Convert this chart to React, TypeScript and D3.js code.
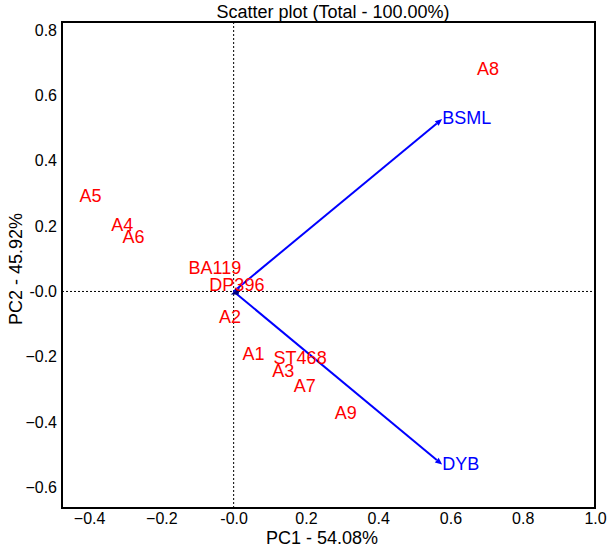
import { useEffect, useRef } from 'react';
import * as d3 from 'd3';

// observations (red labels)
const obsNames = ['A8', 'A5', 'A4', 'A6', 'BA119', 'DP396', 'A2', 'A1', 'ST468', 'A3', 'A7', 'A9'];
const obsPC1 = [0.704, -0.396, -0.308, -0.277, -0.052, 0.009, -0.01, 0.055, 0.184, 0.137, 0.197, 0.31];
const obsPC2 = [0.68, 0.291, 0.205, 0.168, 0.072, 0.02, -0.078, -0.19, -0.205, -0.245, -0.289, -0.372];

// variables (blue vectors)
const varNames = ['BSML', 'DYB'];
const varPC1 = [0.577, 0.577];
const varPC2 = [0.528, -0.53];

const xTicks = [-0.4, -0.2, 0, 0.2, 0.4, 0.6, 0.8, 1.0];
const yTicks = [-0.6, -0.4, -0.2, 0, 0.2, 0.4, 0.6, 0.8];

const fmt = (d: number) => (d === 0 ? '-0.0' : d3.format('.1f')(d));

export default function App() {
  const gx = useRef<SVGGElement>(null),
    gy = useRef<SVGGElement>(null);

  const width = 607,
    height = 550,
    left = 62,
    right = 595,
    top = 22,
    bottom = 508;

  const x = d3.scaleLinear().domain([-0.475, 1.0]).range([left, right]);
  const y = d3.scaleLinear().domain([-0.663, 0.825]).range([bottom, top]);

  useEffect(() => {
    const ax = d3.select(gx.current!);
    ax.call(d3.axisBottom(x).tickValues(xTicks).tickFormat(fmt as any).tickSize(0).tickPadding(5));
    ax.select('.domain').remove();
    ax.selectAll('text').attr('font-size', 16).attr('font-family', 'Liberation Sans, Arial, sans-serif').attr('fill', '#000');

    const ay = d3.select(gy.current!);
    ay.call(d3.axisLeft(y).tickValues(yTicks).tickFormat(fmt as any).tickSize(0).tickPadding(5));
    ay.select('.domain').remove();
    ay.selectAll('text').attr('font-size', 16).attr('font-family', 'Liberation Sans, Arial, sans-serif').attr('fill', '#000');
  }, []);

  const font = 'Liberation Sans, Arial, sans-serif';
  const x0 = x(0),
    y0 = y(0);

  return (
    <svg
      width={width}
      height={height}
      style={{ position: 'absolute', left: 0, top: 0, background: '#fff' }}
      fontFamily={font}
    >
      <text x={333} y={12} textAnchor="middle" dominantBaseline="central" fontSize={18}>
        Scatter plot (Total - 100.00%)
      </text>

      {/* zero lines */}
      <line x1={x0} x2={x0} y1={top} y2={bottom} stroke="#000" strokeWidth={1} strokeDasharray="2,2" />
      <line x1={left} x2={right} y1={y0} y2={y0} stroke="#000" strokeWidth={1} strokeDasharray="2,2" />

      <g ref={gx} transform={`translate(0,${bottom})`} />
      <g ref={gy} transform={`translate(${left},0)`} />

      {/* vectors */}
      {varNames.map((n, i) => {
        const ex = x(varPC1[i]),
          ey = y(varPC2[i]);
        const ang = Math.atan2(ey - y0, ex - x0);
        const L = 7,
          W = 3;
        const bx = ex - L * Math.cos(ang),
          by = ey - L * Math.sin(ang);
        const p1 = [bx + W * Math.sin(ang), by - W * Math.cos(ang)];
        const p2 = [bx - W * Math.sin(ang), by + W * Math.cos(ang)];
        return (
          <g key={n}>
            <line x1={x0} y1={y0} x2={bx} y2={by} stroke="#0000ff" strokeWidth={2} />
            <polygon points={`${ex},${ey} ${p1[0]},${p1[1]} ${p2[0]},${p2[1]}`} fill="#0000ff" />
            <text x={ex} y={ey - 1} dominantBaseline="central" fontSize={18} fill="#0000ff">
              {n}
            </text>
          </g>
        );
      })}
      <polygon
        points={`${x0 - 3},${y0 + 3} ${x0 + 6},${y0 - 4} ${x0 + 5},${y0 + 3}`}
        fill="#000080"
      />

      {/* observations */}
      {obsNames.map((n, i) => (
        <text
          key={n}
          x={x(obsPC1[i])}
          y={y(obsPC2[i])}
          textAnchor="middle"
          dominantBaseline="central"
          fontSize={18}
          fill="#ff0000"
        >
          {n}
        </text>
      ))}

      {/* frame */}
      <rect x={left} y={top} width={right - left} height={bottom - top} fill="none" stroke="#000" strokeWidth={2} />

      <text x={322} y={538} textAnchor="middle" dominantBaseline="central" fontSize={18}>
        PC1 - 54.08%
      </text>
      <text
        transform={`translate(16,${269}) rotate(-90)`}
        textAnchor="middle"
        dominantBaseline="central"
        fontSize={18}
      >
        PC2 - 45.92%
      </text>
    </svg>
  );
}
